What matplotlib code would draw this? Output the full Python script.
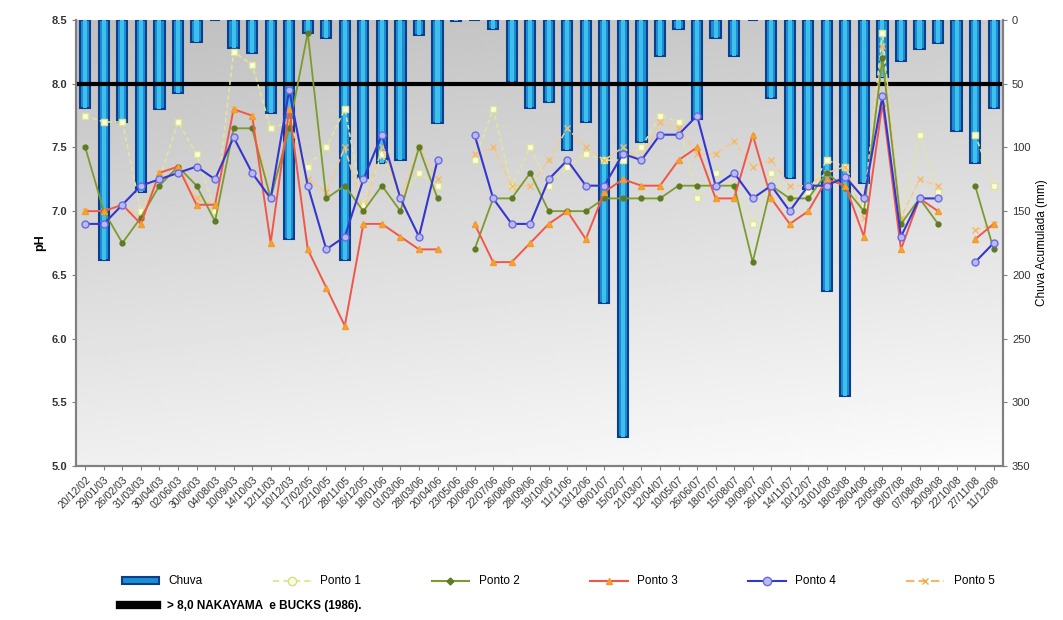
import matplotlib
matplotlib.use("Agg")
import matplotlib.pyplot as plt
from matplotlib.patches import Patch
from matplotlib.lines import Line2D
import numpy as np

nan = np.nan

datas = ["20/12/02", "29/01/03", "26/02/03", "31/03/03", "30/04/03", "02/06/03", "30/06/03",
         "04/08/03", "10/09/03", "14/10/03", "12/11/03", "10/12/03", "17/02/05", "22/10/05",
         "28/11/05", "16/12/05", "18/01/06", "01/03/06", "28/03/06", "20/04/06", "23/05/06",
         "20/06/06", "22/07/06", "26/08/06", "28/09/06", "19/10/06", "11/11/06", "13/12/06",
         "09/01/07", "15/02/07", "21/03/07", "12/04/07", "10/05/07", "26/06/07", "18/07/07",
         "15/08/07", "19/09/07", "26/10/07", "14/11/07", "10/12/07", "31/01/08", "18/03/08",
         "28/04/08", "23/05/08", "08/07/08", "07/08/08", "20/09/08", "22/10/08", "27/11/08",
         "11/12/08"]

# chuva acumulada (mm)
chuva = [69, 188, 80, 135, 70, 57, 17, 0, 22, 26, 73, 172, 10, 14, 188, 124, 112, 110, 12, 81,
         1, 0, 7, 49, 69, 64, 102, 80, 222, 327, 96, 28, 7, 78, 14, 28, 0, 61, 124, 133,
         213, 295, 128, 45, 32, 23, 18, 87, 112, 69]

ponto1 = [7.75, 7.7, 7.7, 7.0, 7.25, 7.7, 7.45, 7.0, 8.25, 8.15, 7.65, 7.7, 7.35, 7.5, 7.8,
          7.05, 7.45, 7.1, 7.3, 7.2, nan, 7.4, 7.8, 7.2, 7.5, 7.2, 7.35, 7.45, 7.4, 7.4,
          7.5, 7.75, 7.7, 7.1, 7.3, 7.2, 6.9, 7.3, 7.1, 7.15, 7.4, 7.35, 7.05, 8.4, 6.9,
          7.6, 7.15, nan, 7.6, 7.2]
ponto2 = [7.5, 7.0, 6.75, 6.95, 7.2, 7.35, 7.2, 6.92, 7.65, 7.65, 7.1, 7.65, 8.4, 7.1, 7.2,
          7.0, 7.2, 7.0, 7.5, 7.1, nan, 6.7, 7.1, 7.1, 7.3, 7.0, 7.0, 7.0, 7.1, 7.1,
          7.1, 7.1, 7.2, 7.2, 7.2, 7.2, 6.6, 7.2, 7.1, 7.1, 7.3, 7.18, 7.0, 8.2, 6.9,
          7.1, 6.9, nan, 7.2, 6.7]
ponto3 = [7.0, 7.0, 7.05, 6.9, 7.3, 7.35, 7.05, 7.05, 7.8, 7.75, 6.75, 7.8, 6.7, 6.4, 6.1,
          6.9, 6.9, 6.8, 6.7, 6.7, nan, 6.9, 6.6, 6.6, 6.75, 6.9, 7.0, 6.78, 7.15, 7.25,
          7.2, 7.2, 7.4, 7.5, 7.1, 7.1, 7.6, 7.1, 6.9, 7.0, 7.25, 7.2, 6.8, 7.85, 6.7,
          7.1, 7.0, nan, 6.78, 6.9]
ponto4 = [6.9, 6.9, 7.05, 7.2, 7.25, 7.3, 7.35, 7.25, 7.58, 7.3, 7.1, 7.95, 7.2, 6.7, 6.8,
          7.25, 7.6, 7.1, 6.8, 7.4, nan, 7.6, 7.1, 6.9, 6.9, 7.25, 7.4, 7.2, 7.2, 7.45,
          7.4, 7.6, 7.6, 7.75, 7.2, 7.3, 7.1, 7.2, 7.0, 7.2, 7.2, 7.27, 7.1, 7.9, 6.8,
          7.1, 7.1, nan, 6.6, 6.75]
ponto5 = [7.0, 7.0, 7.05, 6.95, 7.3, 7.35, 7.1, 7.05, 7.8, 7.75, 7.1, 7.7, 7.25, 7.15, 7.5,
          7.0, 7.5, 7.1, 7.5, 7.25, nan, 7.45, 7.5, 7.2, 7.2, 7.4, 7.65, 7.5, 7.4, 7.5,
          7.4, 7.7, 7.65, 7.45, 7.45, 7.55, 7.35, 7.4, 7.2, 7.2, 7.3, 7.35, 6.95, 8.3, 6.95,
          7.25, 7.2, nan, 6.85, 6.9]

limite = 8.0

plt.rcParams['font.family'] = ['Liberation Sans', 'DejaVu Sans']

fig = plt.figure(figsize=(10.63, 6.2), dpi=100)
ax = fig.add_axes([0.0715, 0.2484, 0.872, 0.7193])
ax2 = ax.twinx()

x = np.arange(len(datas))

# fundo cinza em degrade
gy, gx = np.mgrid[0:1:200j, 0:1:200j]
fundo = 0.75 + 0.19 * gy + 0.05 * gx
ax2.imshow(fundo, cmap='gray', vmin=0, vmax=1, extent=[0, 1, 0, 1], aspect='auto',
           transform=ax2.transAxes, zorder=0, origin='upper')

# chuva
ax2.bar(x, chuva, width=0.55, color='#1a8fd2', edgecolor='#0c3d8e', linewidth=1.5, zorder=2)
ax2.bar(x, chuva, width=0.22, color='#3fbfec', edgecolor='none', zorder=3)
ax2.set_ylim(350, 0)
ax2.set_yticks(np.arange(0, 351, 50))
ax2.set_ylabel("Chuva Acumulada (mm)", fontsize=8.5)

ax.set_zorder(ax2.get_zorder() + 1)
ax.patch.set_visible(False)

ax.axhline(limite, color='black', linewidth=3, zorder=2)
ax.plot(x, ponto1, color='#e2e89a', linestyle=(0, (3, 2)), linewidth=1.1, marker='s',
        markersize=4.5, markerfacecolor='#fbfbe6', markeredgecolor='#dfe58e', zorder=3)
ax.plot(x, ponto5, color='#f8c98a', linestyle=(0, (4, 2)), linewidth=1.1, marker='x',
        markersize=4, markeredgecolor='#f5b968', zorder=3)
ax.plot(x, ponto2, color='#7d9a2e', linewidth=1.3, marker='o', markersize=3.5,
        markerfacecolor='#5e7a22', markeredgecolor='#5e7a22', zorder=4)
ax.plot(x, ponto3, color='#f0574a', linewidth=1.4, marker='^', markersize=4.5,
        markerfacecolor='#f7a531', markeredgecolor='#f39a2a', zorder=5)
ax.plot(x, ponto4, color='#3535d0', linewidth=1.5, marker='o', markersize=5,
        markerfacecolor='#b9b9f3', markeredgecolor='#6a6ae2', zorder=6)

ax.set_ylim(5.0, 8.5)
ax.set_yticks(np.arange(5.0, 8.51, 0.5))
ax.set_yticklabels(["%.1f" % v for v in np.arange(5.0, 8.51, 0.5)], fontsize=8, fontweight='bold')
ax.set_ylabel("pH", fontsize=9, fontweight='bold')
ax.set_xlim(-0.5, len(datas) - 0.5)
ax.set_xticks(x)
ax.set_xticklabels(datas, rotation=45, ha='right', rotation_mode='anchor', fontsize=7.5)

for a in (ax, ax2):
    a.spines['top'].set_visible(False)
    for s in ('left', 'right', 'bottom'):
        a.spines[s].set_color('#808080')
        a.spines[s].set_linewidth(1.5)
    a.tick_params(length=3, color='#808080', labelcolor='#333333')
ax2.tick_params(labelsize=8)

handles = [Patch(facecolor='#1a8fd2', edgecolor='#0c3d8e', linewidth=1.5),
           Line2D([], [], color='#e2e89a', linestyle=(0, (3, 2)), marker='o', markersize=6,
                  markerfacecolor='#fbfbe6', markeredgecolor='#d6df80'),
           Line2D([], [], color='#7d9a2e', marker='D', markersize=3.5,
                  markerfacecolor='#5e7a22', markeredgecolor='#5e7a22'),
           Line2D([], [], color='#f0574a', marker='^', markersize=5,
                  markerfacecolor='#f7a531', markeredgecolor='#f39a2a'),
           Line2D([], [], color='#3535d0', marker='o', markersize=6,
                  markerfacecolor='#b9b9f3', markeredgecolor='#6a6ae2'),
           Line2D([], [], color='#f6b765', linestyle=(0, (4, 2)), marker='x', markersize=5,
                  markeredgecolor='#f3a94a')]
labels = ["Chuva", "Ponto 1", "Ponto 2", "Ponto 3", "Ponto 4", "Ponto 5"]
leg1 = fig.legend(handles, labels, loc='lower left', bbox_to_anchor=(0.11, 0.045, 0.83, 0.04),
                  mode='expand', ncol=6, frameon=False, fontsize=8.5, handlelength=3.2,
                  handleheight=0.5, borderaxespad=0)
leg2 = fig.legend([Line2D([], [], color='black', linewidth=6)],
                  ["> 8,0 NAKAYAMA  e BUCKS (1986)."], loc='lower left',
                  bbox_to_anchor=(0.108, 0.005), frameon=False, handlelength=3.2,
                  prop={'size': 8.5, 'weight': 'bold'}, borderaxespad=0)

plt.savefig("out.png", dpi=100)
